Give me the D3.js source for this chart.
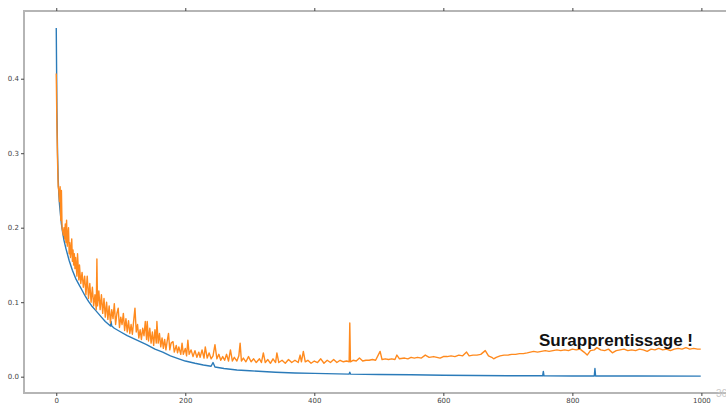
<!DOCTYPE html>
<html>
<head>
<meta charset="utf-8">
<script src="https://cdn.jsdelivr.net/npm/d3@7"></script>
<style>
  body { margin: 0; background: #fff; }
  .axis text { font-family: "DejaVu Sans", sans-serif; font-size: 7px; fill: #444; }
  .axis line { stroke: #444; }
  .axis path.domain { display: none; }
  .spine { stroke: #b5b5b5; stroke-width: 2px; }
  .line { fill: none; stroke-width: 1.4px; stroke-linejoin: round; }
</style>
</head>
<body>
<div id="chart"></div>
<script>
// training loss [epoch, value]
const trainLoss = [
  [0,0.468],[1,0.36],[2,0.30],[3,0.265],[4,0.245],[5,0.232],[6,0.222],[8,0.205],[10,0.193],
  [12,0.183],[15,0.172],[20,0.156],[25,0.143],[30,0.132],[35,0.124],[40,0.116],[45,0.108],
  [50,0.101],[55,0.095],[60,0.09],[65,0.085],[70,0.08],[76,0.074],[80,0.071],[84,0.068],
  [85,0.074],[86,0.068],[90,0.065],[100,0.06],[110,0.055],[120,0.051],[130,0.047],[140,0.043],
  [153,0.037],[165,0.033],[177,0.028],[190,0.024],[200,0.021],[215,0.018],[228,0.0157],
  [240,0.014],[243,0.019],[246,0.013],[260,0.011],[280,0.009],[300,0.008],[320,0.007],
  [340,0.006],[370,0.005],[400,0.0045],[454,0.0035],[455,0.006],[456,0.0035],[500,0.003],
  [550,0.0025],[600,0.002],[650,0.0015],[700,0.0013],[754,0.0012],[755,0.007],[756,0.0012],
  [800,0.001],[834,0.001],[835,0.011],[836,0.001],[900,0.001],[999,0.0008]
];

// validation loss [epoch, value]
const valLoss = [
  [0,0.407],[1,0.34],[2,0.29],[3,0.255],[4,0.25],[5,0.235],[6,0.255],[7,0.21],[8,0.25],
  [9,0.2],[10,0.195],[11,0.19],[12,0.2],[13,0.185],[14,0.205],[15,0.18],[16,0.21],[17,0.175],
  [18,0.19],[19,0.2],[20,0.165],[21,0.18],[22,0.16],[23,0.17],[24,0.185],[25,0.155],
  [26,0.17],[27,0.15],[28,0.165],[29,0.145],[30,0.16],[32,0.135],[33,0.165],[35,0.13],
  [36,0.15],[38,0.125],[40,0.14],[42,0.12],[44,0.135],[46,0.11],[48,0.135],[50,0.105],
  [52,0.125],[54,0.1],[56,0.12],[58,0.095],[60,0.11],[62,0.09],[63,0.158],[64,0.095],
  [66,0.115],[68,0.09],[70,0.11],[72,0.085],[74,0.105],[76,0.08],[78,0.1],[80,0.077],
  [82,0.095],[84,0.072],[86,0.09],[88,0.078],[90,0.098],[92,0.07],[94,0.085],[96,0.092],
  [98,0.066],[100,0.08],[102,0.07],[104,0.085],[106,0.062],[108,0.078],[110,0.06],
  [112,0.075],[114,0.058],[116,0.07],[118,0.057],[120,0.075],[122,0.092],[124,0.06],
  [126,0.07],[128,0.052],[130,0.063],[132,0.05],[134,0.065],[136,0.055],[138,0.074],
  [140,0.05],[141,0.074],[143,0.048],[145,0.065],[147,0.045],[149,0.06],[151,0.042],
  [153,0.063],[155,0.045],[156,0.074],[158,0.045],[160,0.058],[162,0.04],[164,0.052],
  [166,0.038],[168,0.05],[170,0.036],[172,0.048],[174,0.058],[176,0.036],[178,0.045],
  [181,0.047],[183,0.033],[186,0.042],[188,0.032],[190,0.04],[193,0.03],[195,0.045],
  [197,0.03],[200,0.038],[202,0.028],[204,0.049],[206,0.03],[209,0.036],[212,0.027],
  [215,0.035],[218,0.026],[221,0.033],[223,0.026],[226,0.036],[229,0.025],[231,0.04],
  [234,0.025],[237,0.032],[240,0.024],[243,0.028],[246,0.043],[249,0.024],[252,0.03],
  [255,0.022],[258,0.027],[261,0.022],[264,0.03],[267,0.021],[270,0.036],[273,0.021],
  [276,0.026],[280,0.021],[283,0.028],[285,0.045],[287,0.021],[290,0.025],[294,0.02],
  [298,0.027],[302,0.02],[306,0.024],[310,0.019],[315,0.024],[318,0.019],[321,0.032],
  [324,0.019],[328,0.023],[332,0.018],[336,0.024],[340,0.019],[342,0.032],[345,0.019],
  [350,0.022],[355,0.018],[360,0.023],[365,0.019],[370,0.022],[375,0.019],[378,0.029],
  [380,0.02],[383,0.034],[386,0.02],[390,0.022],[395,0.018],[400,0.021],[405,0.019],
  [410,0.024],[415,0.018],[420,0.022],[425,0.019],[430,0.023],[435,0.019],[440,0.022],
  [445,0.02],[450,0.021],[454,0.02],[455,0.072],[456,0.02],[460,0.022],[465,0.021],
  [470,0.025],[475,0.021],[480,0.022],[485,0.022],[490,0.023],[495,0.022],[502,0.034],
  [505,0.023],[510,0.024],[515,0.023],[520,0.024],[525,0.023],[528,0.029],[532,0.024],
  [540,0.025],[545,0.024],[550,0.026],[555,0.025],[560,0.026],[566,0.025],[572,0.029],
  [578,0.026],[585,0.027],[590,0.026],[595,0.025],[600,0.027],[606,0.027],[612,0.028],
  [618,0.027],[624,0.029],[630,0.028],[636,0.033],[640,0.028],[646,0.029],[652,0.029],
  [658,0.03],[665,0.035],[670,0.028],[675,0.026],[678,0.024],[682,0.026],[688,0.028],
  [694,0.029],[700,0.029],[706,0.03],[712,0.03],[718,0.031],[724,0.031],[730,0.032],
  [735,0.033],[740,0.034],[746,0.033],[752,0.034],[758,0.035],[764,0.034],[770,0.035],
  [776,0.036],[782,0.035],[788,0.036],[794,0.035],[800,0.037],[806,0.036],[812,0.037],
  [818,0.033],[823,0.029],[828,0.035],[834,0.036],[838,0.039],[844,0.036],[850,0.035],
  [856,0.037],[862,0.032],[868,0.035],[874,0.036],[880,0.037],[886,0.035],[892,0.036],
  [898,0.035],[904,0.037],[910,0.036],[916,0.034],[922,0.037],[928,0.036],[934,0.038],
  [940,0.036],[946,0.037],[952,0.035],[958,0.037],[964,0.038],[970,0.037],[976,0.039],
  [982,0.037],[988,0.038],[994,0.037],[999,0.037]
];

const xTicks = [0, 200, 400, 600, 800, 1000];
const yTicks = [0.0, 0.1, 0.2, 0.3, 0.4];
const annotation = "Surapprentissage !";
const pageNumber = "36";

const W = 726, H = 404;
const svg = d3.select("#chart").append("svg")
    .attr("width", W)
    .attr("height", H);

const xScale = d3.scaleLinear().domain([-50, 1049]).range([24, 733]);
const yScale = d3.scaleLinear().domain([-0.0219, 0.4909]).range([393, 11]);

// spines (right one falls outside the crop)
const x0 = xScale.range()[0], x1 = xScale.range()[1];
const y0 = yScale.range()[0], y1 = yScale.range()[1];
svg.append("line").attr("class", "spine").attr("x1", x0).attr("x2", x0).attr("y1", y1 - 1).attr("y2", y0 + 1);
svg.append("line").attr("class", "spine").attr("x1", x0).attr("x2", x1).attr("y1", y1).attr("y2", y1);
svg.append("line").attr("class", "spine").attr("x1", x0).attr("x2", x1).attr("y1", y0).attr("y2", y0);

// axes
svg.append("g")
    .attr("class", "axis axis--x")
    .attr("transform", "translate(0," + y0 + ")")
    .call(d3.axisBottom(xScale).tickValues(xTicks).tickSize(3).tickPadding(2).tickFormat(d3.format("d")));

svg.append("g")
    .attr("class", "axis axis--top")
    .attr("transform", "translate(0," + y1 + ")")
    .call(d3.axisTop(xScale).tickValues(xTicks).tickSize(3).tickFormat(""));

svg.append("g")
    .attr("class", "axis axis--y")
    .attr("transform", "translate(" + x0 + ",0)")
    .call(d3.axisLeft(yScale).tickValues(yTicks).tickSize(3).tickPadding(2).tickFormat(d3.format(".1f")));

// lines
const line = d3.line()
    .x(d => xScale(d[0]))
    .y(d => yScale(d[1]));

svg.append("path")
    .datum(trainLoss)
    .attr("class", "line")
    .attr("stroke", "#2b7bb9")
    .attr("d", line);

svg.append("path")
    .datum(valLoss)
    .attr("class", "line")
    .attr("stroke", "#ff8a1e")
    .attr("d", line);

// annotation
svg.append("text")
    .attr("x", 539)
    .attr("y", 346)
    .attr("font-family", "Liberation Sans, Arial, sans-serif")
    .attr("font-weight", "bold")
    .attr("font-size", "17px")
    .attr("fill", "#111")
    .text(annotation);

svg.append("text")
    .attr("x", 716)
    .attr("y", 397)
    .attr("font-family", "Liberation Sans, Arial, sans-serif")
    .attr("font-size", "10px")
    .attr("fill", "#c8c8c8")
    .text(pageNumber);
</script>
</body>
</html>
